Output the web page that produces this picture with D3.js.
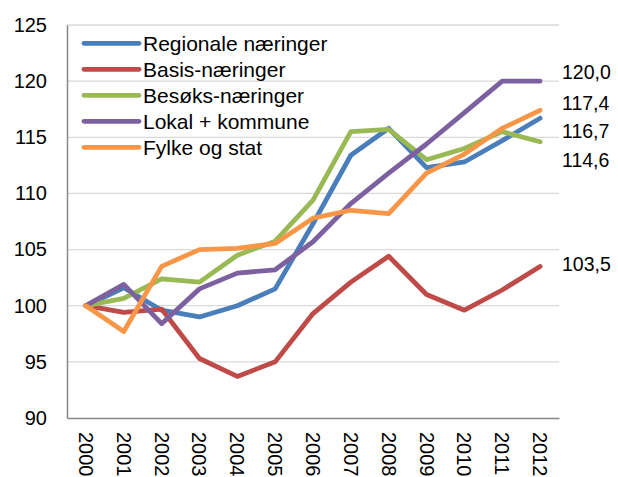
<!DOCTYPE html>
<html><head><meta charset="utf-8">
<script src="https://cdn.jsdelivr.net/npm/d3@7"></script>
<style>body{margin:0;background:#fff}svg text{font-family:"Liberation Sans",Arial,sans-serif;fill:#000}</style>
</head><body>
<svg id="c" width="618" height="477"></svg>
<script>
const years = ["2000","2001","2002","2003","2004","2005","2006","2007","2008","2009","2010","2011","2012"];
const seriesNames = ["Regionale næringer","Basis-næringer","Besøks-næringer","Lokal + kommune","Fylke og stat"];
const regionale = [100,101.6,99.6,99.0,100.0,101.5,107.3,113.4,115.8,112.3,112.8,114.7,116.7];
const basis     = [100,99.4,99.7,95.3,93.7,95.0,99.3,102.1,104.4,101.0,99.6,101.4,103.5];
const besoks    = [100,100.65,102.4,102.1,104.5,105.75,109.4,115.5,115.7,113.0,114.0,115.5,114.6];
const lokal     = [100,101.9,98.4,101.5,102.9,103.2,105.7,109.1,111.8,114.4,117.2,120.0,120.0];
const fylke     = [100,97.7,103.5,105.0,105.1,105.55,107.8,108.5,108.2,111.8,113.5,115.8,117.4];
const colors = ["#4a7ebb","#be4b48","#98b954","#7d60a0","#f79646"];
const yTicks = [90,95,100,105,110,115,120,125];
const endLabels = ["116,7","103,5","114,6","120,0","117,4"];
const endLabelY = [130.7,264,160,71.7,103];

const all = [regionale,basis,besoks,lokal,fylke];
const svg = d3.select("#c");
const L=67,R=559,T=25,B=418;
const x = d3.scaleBand().domain(years).range([L,R]);
const y = d3.scaleLinear().domain([90,125]).range([B,T]);

// gridlines
svg.append("g").selectAll("line").data(yTicks.slice(1)).join("line")
  .attr("x1",L).attr("x2",R).attr("y1",d=>y(d)).attr("y2",d=>y(d))
  .attr("stroke","#d9d9d9").attr("stroke-width",1.3);

// axes
const ya = svg.append("g").attr("transform",`translate(${L},0)`)
  .call(d3.axisLeft(y).tickValues(yTicks).tickSize(0).tickPadding(20));
ya.select(".domain").attr("stroke","#868686").attr("stroke-width",1.5);
ya.selectAll("text").attr("font-size","20px").attr("font-family","Liberation Sans, Arial, sans-serif");

const xa = svg.append("g").attr("transform",`translate(0,${B})`)
  .call(d3.axisBottom(x).tickSize(0));
xa.select(".domain").attr("stroke","#868686").attr("stroke-width",1.5);
xa.selectAll("text").attr("font-size","20px").attr("font-family","Liberation Sans, Arial, sans-serif")
  .attr("text-anchor","start").attr("dy","0.35em")
  .attr("transform","translate(0,14) rotate(90)").attr("y",0).attr("x",0);

// lines
const line = d3.line().x((d,i)=>x(years[i])+x.bandwidth()/2).y(d=>y(d));
all.forEach((s,k)=>{
  svg.append("path").datum(s).attr("d",line).attr("fill","none")
    .attr("stroke",colors[k]).attr("stroke-width",4.8)
    .attr("stroke-linejoin","round").attr("stroke-linecap","round");
});

// end labels
svg.append("g").selectAll("text").data(endLabels).join("text")
  .attr("x",562).attr("y",(d,i)=>endLabelY[i]).attr("dy","0.35em")
  .attr("font-size","19.5px").text(d=>d);

// legend
const lg = svg.append("g");
seriesNames.forEach((n,i)=>{
  const yy = 43.3 + i*26;
  lg.append("line").attr("x1",84).attr("x2",139).attr("y1",yy).attr("y2",yy)
    .attr("stroke",colors[i]).attr("stroke-width",4.8).attr("stroke-linecap","round");
  lg.append("text").attr("x",143).attr("y",yy).attr("dy","0.35em").attr("font-size","21px").text(n);
});
</script>
</body></html>
